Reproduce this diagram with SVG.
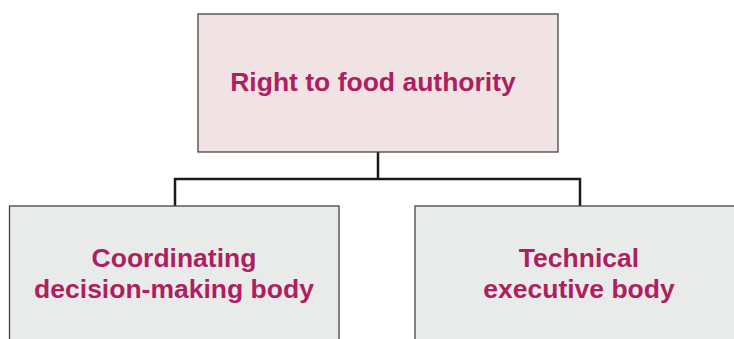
<svg xmlns="http://www.w3.org/2000/svg" width="734" height="339" viewBox="0 0 734 339">
<style>
.box{stroke:#444;stroke-width:1.3}
.top{fill:#F1E3E4}
.sub{fill:#E9EBEA}
.lbl{font-family:"Liberation Sans",Arial,sans-serif;font-weight:bold;font-size:26.5px;fill:#AE1F5F;text-anchor:middle}
.conn{fill:none;stroke:#1a1a1a;stroke-width:2.5}
</style>
<rect width="734" height="339" fill="#fff"/>
<g id="connectors">
<path class="conn" d="M378 152 V179 M175 206 V179 H580 V206"/>
</g>
<g id="authority">
<rect class="box top" x="198" y="14" width="360" height="138"/>
<text class="lbl" x="373" y="91">Right to food authority</text>
</g>
<g id="coordinating">
<rect class="box sub" x="9.5" y="206" width="329.5" height="140"/>
<text class="lbl" x="174" y="267">Coordinating</text>
<text class="lbl" x="174" y="298">decision-making body</text>
</g>
<g id="technical">
<rect class="box sub" x="415" y="206" width="330" height="140"/>
<text class="lbl" x="579" y="267">Technical</text>
<text class="lbl" x="579" y="298">executive body</text>
</g>
</svg>
